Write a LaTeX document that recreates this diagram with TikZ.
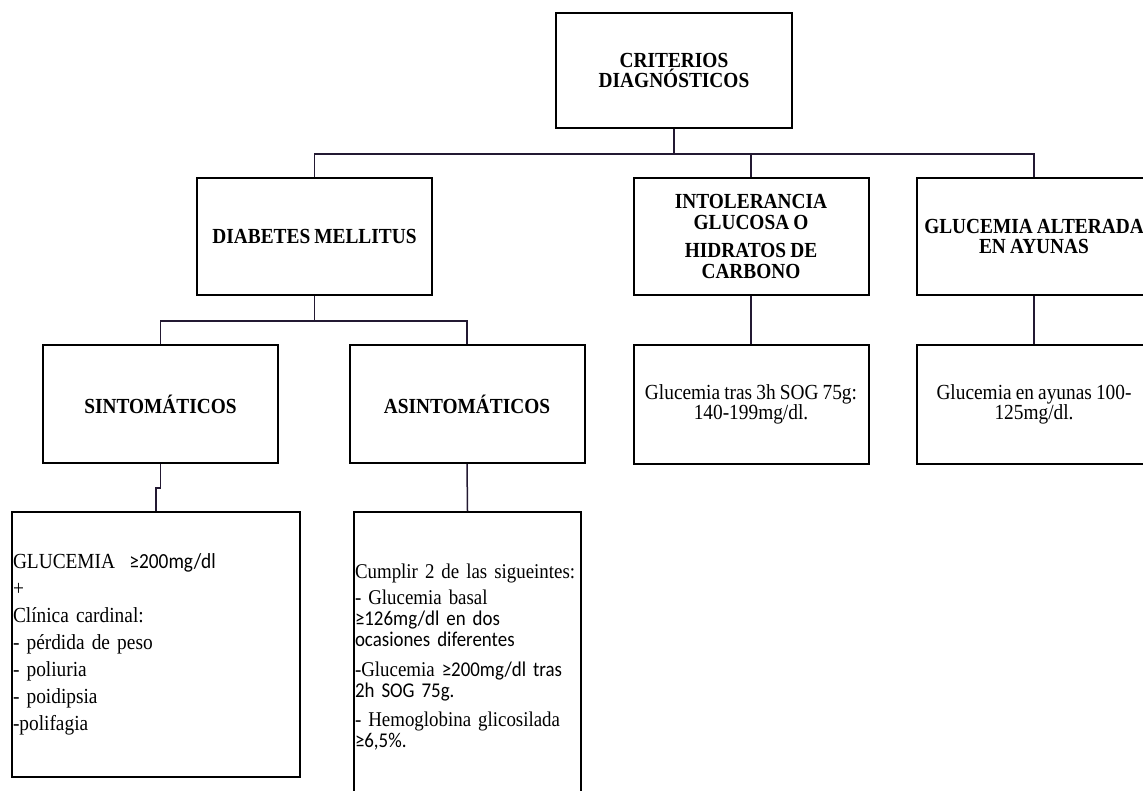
\documentclass[tikz,border=0pt]{standalone}
\usepackage{fontspec}
\setmainfont{Liberation Serif}[FakeStretch=0.9, WordSpace=0.85]
\newfontfamily\calib{Carlito}[FakeStretch=0.9, WordSpace=0.85]
\usepackage{tikz}
\usetikzlibrary{positioning, calc}

\begin{document}
\begin{tikzpicture}[
        x=1pt, y=-1pt,
        head_box/.style={draw, line width=2pt, minimum width=235pt, minimum height=117pt, align=center, font=\fontsize{21.5}{21}\selectfont\bfseries},
        text_box/.style={draw, line width=2pt, minimum width=235pt, minimum height=119pt, align=center, font=\fontsize{21.5}{20}\selectfont},
        list_box/.style={draw, line width=2pt, align=left, inner xsep=1pt, inner ysep=0pt},
        tree_line/.style={line width=1.5pt, color={rgb,255:red,35;green,25;blue,50}}
    ]
    \useasboundingbox (0,0) rectangle (1143,790);

    % Top level
    \node[head_box, minimum width=236pt, minimum height=115pt, font=\fontsize{21.5}{18}\selectfont\bfseries] (criterios) at (674,70.5) {CRITERIOS\\DIAGNÓSTICOS};

    % Second level
    \node[head_box] (diabetes) at (314.5,236.5) {DIABETES MELLITUS};
    \node[head_box] (intolerancia) at (751,236.5) {INTOLERANCIA\\GLUCOSA O\\[7pt]HIDRATOS DE\\CARBONO};
    \node[head_box, font=\fontsize{21.5}{20}\selectfont\bfseries] (glucemia_alt) at (1034,236.5) {GLUCEMIA ALTERADA\\EN AYUNAS};

    % Third level
    \node[head_box, minimum height=118pt] (sintomaticos) at (160.5,404) {SINTOMÁTICOS};
    \node[head_box, minimum height=118pt] (asintomaticos) at (467,404) {ASINTOMÁTICOS};
    \node[text_box] (sog_box) at (751,404.5) {Glucemia tras 3h SOG 75g:\\140-199mg/dl.};
    \node[text_box] (ayunas_box) at (1034,404.5) {Glucemia en ayunas 100-\\125mg/dl.};

    % Criteria lists
    \node[list_box, minimum width=288pt, minimum height=265pt, text width=286pt, font=\fontsize{21.5}{27}\selectfont] (clinica_box) at (156,644.5) {%
        GLUCEMIA\ \ {\calib ≥200mg/dl}\\
        +\\
        Clínica cardinal:\\
        - pérdida de peso\\
        - poliuria\\
        - poidipsia\\
        -polifagia};
    \node[list_box, minimum width=227pt, minimum height=290pt, text width=225pt, font=\fontsize{21}{21}\selectfont] (cumplir_box) at (467.5,657) {%
        Cumplir 2 de las sigueintes:\\[5pt]
        - Glucemia basal\\
        {\calib ≥126mg/dl en dos}\\
        {\calib ocasiones diferentes}\\[9pt]
        -Glucemia {\calib ≥200mg/dl tras}\\
        {\calib 2h SOG 75g.}\\[8pt]
        - Hemoglobina glicosilada\\
        {\calib ≥6,5\%.}};

    % Tree connectors
    \draw[tree_line] (criterios.south) -- ++(0,25) -| (diabetes.north);
    \draw[tree_line] (criterios.south) -- ++(0,25) -| (intolerancia.north);
    \draw[tree_line] (criterios.south) -- ++(0,25) -| (glucemia_alt.north);
    \draw[tree_line] (diabetes.south) -- ++(0,25) -| (sintomaticos.north);
    \draw[tree_line] (diabetes.south) -- ++(0,25) -| (asintomaticos.north);
    \draw[tree_line] (intolerancia.south) -- (sog_box.north);
    \draw[tree_line] (glucemia_alt.south) -- (ayunas_box.north);
    \draw[tree_line] (sintomaticos.south) -- ++(0,24) -| (clinica_box.north);
    \draw[tree_line] (asintomaticos.south) -- (cumplir_box.north);
\end{tikzpicture}
\end{document}
